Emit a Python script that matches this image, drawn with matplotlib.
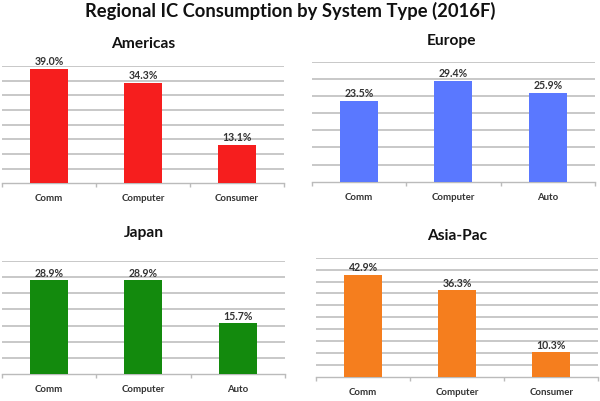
import matplotlib
matplotlib.use("Agg")
import matplotlib.pyplot as plt

plt.rcParams['font.family'] = ['Lato', 'DejaVu Sans']

main_title = "Regional IC Consumption by System Type (2016F)"

americas_cats = ["Comm", "Computer", "Consumer"]
americas_vals = [39.0, 34.3, 13.1]
europe_cats = ["Comm", "Computer", "Auto"]
europe_vals = [23.5, 29.4, 25.9]
japan_cats = ["Comm", "Computer", "Auto"]
japan_vals = [28.9, 28.9, 15.7]
asiapac_cats = ["Comm", "Computer", "Consumer"]
asiapac_vals = [42.9, 36.3, 10.3]

W, H = 600, 401
fig = plt.figure(figsize=(W / 100, H / 100), dpi=100)

def px_axes(left, right, base, top):
    return fig.add_axes([left / W, (H - base) / H, (right - left) / W, (base - top) / H])

panels = [
    # name, cats, vals, color, (left, right, baseline, topy), ymax, title pos
    ("Americas", americas_cats, americas_vals, "#F61E1E", (2, 284, 183.3, 66), 40, (143, 43.5)),
    ("Europe", europe_cats, europe_vals, "#5A78FF", (311.7, 595, 181.7, 61.7), 35, (452, 41)),
    ("Japan", japan_cats, japan_vals, "#138A0D", (1.7, 285, 374.3, 260.7), 35, (143.5, 233.5)),
    ("Asia-Pac", asiapac_cats, asiapac_vals, "#F57E1E", (316, 598.3, 376.7, 257.7), 50, (457, 236.5)),
]

for name, cats, vals, color, box, ymax, tpos in panels:
    ax = px_axes(*box)
    x = list(range(len(cats)))
    bars = ax.bar(x, vals, width=0.4, color=color, zorder=3)
    ax.set_xlim(-0.5, len(cats) - 0.5)
    ax.set_ylim(0, ymax)
    ax.set_yticks(range(5, ymax + 1, 5))
    ax.yaxis.grid(True, color="#C4C4C4", linewidth=1.3, zorder=0)
    ax.tick_params(axis='y', length=0, labelleft=False)
    for s in ['top', 'right', 'left']:
        ax.spines[s].set_visible(False)
    ax.spines['bottom'].set_color("#BBBBBB")
    ax.spines['bottom'].set_linewidth(1.0)
    ax.set_xticks(x)
    ax.set_xticklabels(cats, fontsize=6.9, fontweight='bold', color="#333333")
    ax.tick_params(axis='x', length=0, pad=8)
    ax.set_xticks([i - 0.5 for i in range(len(cats) + 1)], minor=True)
    ax.tick_params(axis='x', which='minor', length=3, color="#BBBBBB", width=1.0)
    for b, v in zip(bars, vals):
        ax.annotate(f"{v:.1f}%", (b.get_x() + b.get_width() / 2, v),
                    xytext=(0, 1.2), textcoords='offset points',
                    ha='center', va='bottom', fontsize=7.6, fontweight='bold',
                    color="#333333")
    fig.text(tpos[0] / W, 1 - tpos[1] / H, name, ha='center', va='center',
             fontsize=11.2, fontweight='bold', color="#111111")

fig.text(290 / W, 1 - 11 / H, main_title, ha='center', va='center',
         fontsize=13.2, fontweight='bold', color="#111111")

fig.savefig("out.png", dpi=100)
